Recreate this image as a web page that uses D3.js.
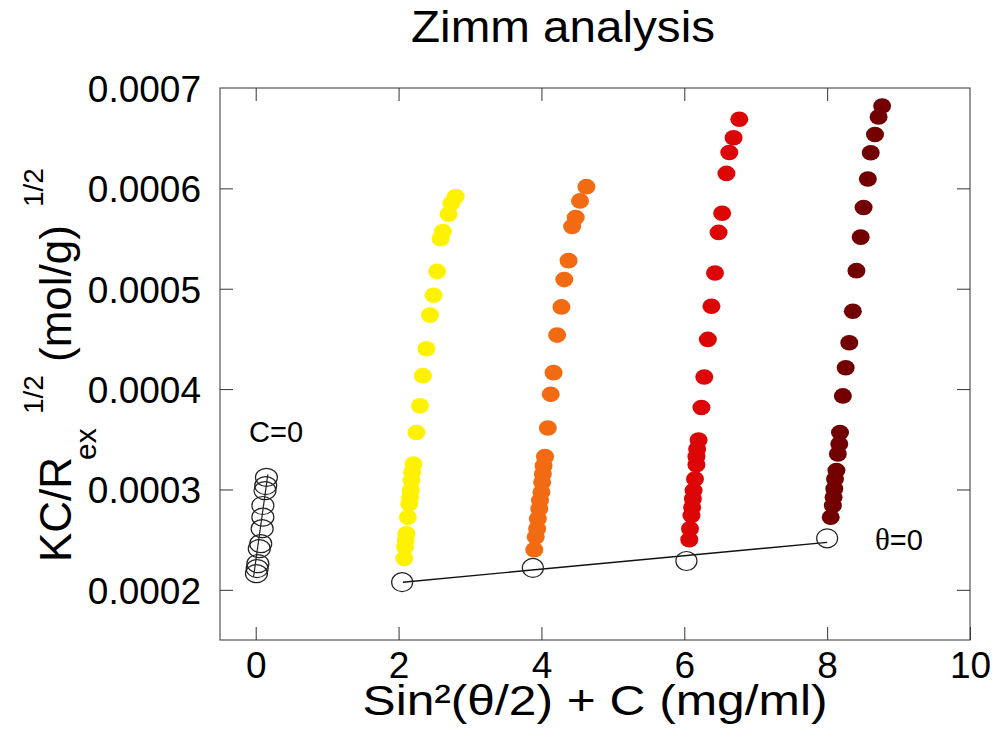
<!DOCTYPE html>
<html>
<head>
<meta charset="utf-8">
<script src="https://cdn.jsdelivr.net/npm/d3@7"></script>
<style>
  html, body { margin: 0; padding: 0; background: #fff; }
  svg { display: block; font-family: "Liberation Sans", Arial, sans-serif; }
</style>
</head>
<body>
<svg id="chart" width="1000" height="739"></svg>
<script>
// ---------------- data ----------------
const xTicks = [0, 2, 4, 6, 8, 10];
const yTicks = [0.0002, 0.0003, 0.0004, 0.0005, 0.0006, 0.0007];
const yTickLabels = ["0.0002", "0.0003", "0.0004", "0.0005", "0.0006", "0.0007"];

const seriesNames = ["c1", "c2", "c3", "c4"];
const seriesColors = ["#FFF200", "#F26A12", "#DD0606", "#730000"];

const c1X = [2.80, 2.74, 2.70, 2.62, 2.59, 2.54, 2.49, 2.44, 2.39, 2.34, 2.30, 2.25, 2.21, 2.19, 2.18, 2.17, 2.16, 2.15, 2.13, 2.11, 2.10, 2.09, 2.08];
const c1Y = [0.0005918, 0.0005851, 0.0005742, 0.0005570, 0.0005498, 0.0005173, 0.0004935, 0.0004737, 0.0004402, 0.0004134, 0.0003833, 0.0003568, 0.0003254, 0.0003171, 0.0003088, 0.0002989, 0.0002923, 0.0002857, 0.0002724, 0.0002559, 0.0002493, 0.0002426, 0.0002311];

const c2X = [4.63, 4.54, 4.48, 4.43, 4.38, 4.32, 4.28, 4.22, 4.17, 4.13, 4.09, 4.05, 4.03, 4.02, 4.01, 4.00, 3.98, 3.97, 3.95, 3.94, 3.92, 3.90];
const c2Y = [0.0006017, 0.0005875, 0.0005709, 0.0005620, 0.0005280, 0.0005091, 0.0004819, 0.0004538, 0.0004164, 0.0003949, 0.0003612, 0.0003327, 0.0003237, 0.0003155, 0.0003072, 0.0002972, 0.0002890, 0.0002807, 0.0002708, 0.0002609, 0.0002526, 0.0002400];

const c3X = [6.77, 6.69, 6.63, 6.59, 6.53, 6.48, 6.43, 6.38, 6.33, 6.28, 6.24, 6.20, 6.18, 6.17, 6.17, 6.15, 6.13, 6.12, 6.11, 6.10, 6.08, 6.07];
const c3Y = [0.0006689, 0.0006504, 0.0006358, 0.0006149, 0.0005752, 0.0005561, 0.0005156, 0.0004826, 0.0004495, 0.0004121, 0.0003816, 0.0003493, 0.0003403, 0.0003327, 0.0003247, 0.0003105, 0.0002989, 0.0002907, 0.0002823, 0.0002741, 0.0002609, 0.0002500];

const c4X = [8.77, 8.72, 8.67, 8.61, 8.57, 8.51, 8.47, 8.41, 8.36, 8.31, 8.26, 8.22, 8.18, 8.17, 8.15, 8.13, 8.11, 8.10, 8.09, 8.08, 8.05];
const c4Y = [0.0006821, 0.0006712, 0.0006537, 0.0006355, 0.0006094, 0.0005809, 0.0005514, 0.0005180, 0.0004776, 0.0004462, 0.0004213, 0.0003932, 0.0003568, 0.0003453, 0.0003354, 0.0003188, 0.0003105, 0.0003006, 0.0002923, 0.0002840, 0.0002724];

// extrapolation to C = 0 (open circles)
const zeroCX = [0.15, 0.14, 0.13, 0.10, 0.10, 0.09, 0.07, 0.05, 0.03, 0.02, 0.01];
const zeroCY = [0.0003121, 0.0003039, 0.0002989, 0.0002840, 0.0002724, 0.0002609, 0.0002460, 0.0002410, 0.0002261, 0.0002212, 0.0002162];
const zeroCLineX = [-0.03, 0.17];
const zeroCLineY = [0.000213, 0.000315];

// extrapolation to theta = 0 (open circles)
const zeroThetaX = [2.05, 3.88, 6.03, 8.00];
const zeroThetaY = [0.0002076, 0.0002218, 0.0002287, 0.0002513];
const zeroThetaLineX = [2.06, 8.00];
const zeroThetaLineY = [0.0002076, 0.0002473];

const seriesX = [c1X, c2X, c3X, c4X];
const seriesY = [c1Y, c2Y, c3Y, c4Y];

// ---------------- layout ----------------
const svg = d3.select("#chart");
const L = 220, R = 970, T = 88, B = 640;
const x = d3.scaleLinear().domain([-0.5, 10]).range([L, R]);
const y = d3.scaleLinear().domain([0.00015, 0.0007]).range([B, T]);
const tickLen = 13;
const frameColor = "#333";

// frame
svg.append("rect").attr("x", L).attr("y", T).attr("width", R - L).attr("height", B - T)
  .attr("fill", "none").attr("stroke", frameColor).attr("stroke-width", 1);

// bottom & top axes (ticks inside)
const gx = svg.append("g").attr("transform", `translate(0,${B})`)
  .call(d3.axisBottom(x).tickValues(xTicks).tickSizeInner(-tickLen).tickSizeOuter(0).tickFormat(d3.format("d")));
gx.select(".domain").remove();
gx.selectAll(".tick line").attr("stroke", frameColor);
gx.selectAll(".tick text").attr("font-size", 37).attr("fill", "#000")
  .attr("font-family", "Liberation Sans, Arial, sans-serif").attr("dy", null).attr("y", 38);

const gxt = svg.append("g").attr("transform", `translate(0,${T})`)
  .call(d3.axisTop(x).tickValues(xTicks.filter(d => d < 10)).tickSizeInner(-tickLen).tickSizeOuter(0).tickFormat(""));
gxt.select(".domain").remove();
gxt.selectAll(".tick line").attr("stroke", frameColor);

// left & right axes
const gy = svg.append("g").attr("transform", `translate(${L},0)`)
  .call(d3.axisLeft(y).tickValues(yTicks).tickSizeInner(-tickLen).tickSizeOuter(0).tickPadding(0)
    .tickFormat((d, i) => yTickLabels[i]));
gy.select(".domain").remove();
gy.selectAll(".tick line").attr("stroke", frameColor);
gy.selectAll(".tick text").attr("font-size", 37).attr("fill", "#000")
  .attr("font-family", "Liberation Sans, Arial, sans-serif").attr("x", -19).attr("dy", "0.36em");
gy.selectAll(".tick").filter(d => d === 0.0007).select("line").remove();

const gyr = svg.append("g").attr("transform", `translate(${R},0)`)
  .call(d3.axisRight(y).tickValues(yTicks.filter(d => d < 0.0007)).tickSizeInner(-tickLen).tickSizeOuter(0).tickFormat(""));
gyr.select(".domain").remove();
gyr.selectAll(".tick line").attr("stroke", frameColor);

// filled series
seriesNames.forEach((name, si) => {
  const pts = seriesX[si].map((v, i) => ({ x: v, y: seriesY[si][i] }));
  svg.append("g").attr("class", name).selectAll("ellipse").data(pts).join("ellipse")
    .attr("cx", d => x(d.x)).attr("cy", d => y(d.y))
    .attr("rx", 9).attr("ry", 7.8)
    .attr("fill", seriesColors[si]);
});

// C=0 extrapolation
const line = d3.line().x(d => x(d[0])).y(d => y(d[1]));
svg.append("path").datum(zeroCLineX.map((v, i) => [v, zeroCLineY[i]]))
  .attr("d", line).attr("stroke", "#222").attr("stroke-width", 1.2).attr("fill", "none");
svg.append("g").selectAll("ellipse").data(zeroCX.map((v, i) => [v, zeroCY[i]])).join("ellipse")
  .attr("cx", d => x(d[0])).attr("cy", d => y(d[1]))
  .attr("rx", 11).attr("ry", 9)
  .attr("fill", "none").attr("stroke", "#222").attr("stroke-width", 1.2);

// theta=0 extrapolation
svg.append("path").datum(zeroThetaLineX.map((v, i) => [v, zeroThetaLineY[i]]))
  .attr("d", line).attr("stroke", "#111").attr("stroke-width", 1.4).attr("fill", "none");
svg.append("g").selectAll("ellipse").data(zeroThetaX.map((v, i) => [v, zeroThetaY[i]])).join("ellipse")
  .attr("cx", d => x(d[0])).attr("cy", d => y(d[1]))
  .attr("rx", 10.5).attr("ry", 9.5)
  .attr("fill", "none").attr("stroke", "#222").attr("stroke-width", 1.2);

// annotations
svg.append("text").attr("x", 249).attr("y", 442).attr("font-size", 29).text("C=0");
const th = svg.append("text").attr("x", 875).attr("y", 550).attr("font-size", 29);
th.append("tspan").attr("font-family", "Liberation Serif, Times New Roman, serif").attr("font-size", 31).text("θ");
th.append("tspan").text("=0");

// title
svg.append("text").attr("x", 563).attr("y", 42).attr("text-anchor", "middle")
  .attr("font-size", 44).attr("textLength", 304).attr("lengthAdjust", "spacingAndGlyphs")
  .text("Zimm analysis");

// x-axis title
svg.append("text").attr("x", 595).attr("y", 715).attr("text-anchor", "middle")
  .attr("font-size", 43).attr("textLength", 465).attr("lengthAdjust", "spacingAndGlyphs")
  .text("Sin²(θ/2) + C (mg/ml)");

// y-axis title (rotated)
const yl = svg.append("g").attr("transform", "rotate(-90)");
yl.append("text").attr("x", -562).attr("y", 71).attr("font-size", 44).text("KC/R");
yl.append("text").attr("x", -460).attr("y", 96).attr("font-size", 30).text("ex");
yl.append("text").attr("x", -414).attr("y", 43).attr("font-size", 28).text("1/2");
yl.append("text").attr("x", -362).attr("y", 71).attr("font-size", 44).text("(mol/g)");
yl.append("text").attr("x", -207).attr("y", 43).attr("font-size", 28).text("1/2");
</script>
</body>
</html>
